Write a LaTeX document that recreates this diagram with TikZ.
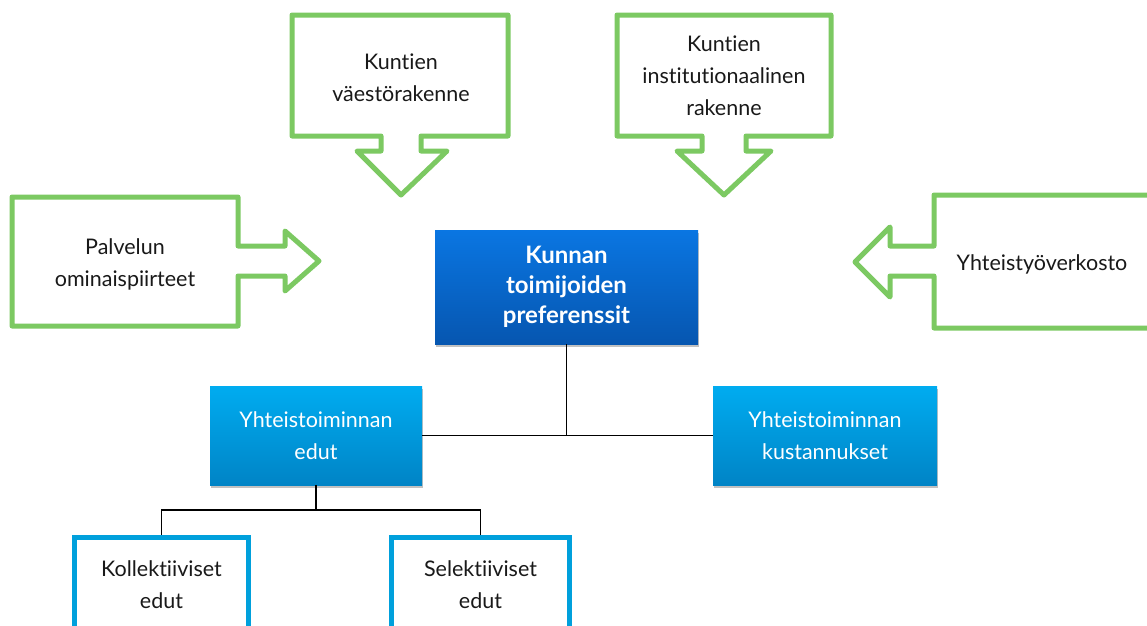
\documentclass[tikz,border=0pt]{standalone}
\usepackage{fontspec}
\setmainfont{Lato}[Ligatures={NoCommon,NoContextual}]
\usetikzlibrary{shadows}
\definecolor{calloutgreen}{RGB}{124,201,98}
\definecolor{prefTop}{RGB}{10,118,226}
\definecolor{prefBot}{RGB}{6,86,176}
\definecolor{benTop}{RGB}{0,172,240}
\definecolor{benBot}{RGB}{0,132,198}
\definecolor{frameblue}{RGB}{0,160,220}
\definecolor{ink}{RGB}{25,25,25}
\begin{document}
\begin{tikzpicture}[x=1pt,y=-1pt,
  callout/.style={draw=calloutgreen, line width=5pt, line join=round, fill=white},
  txt/.style={text=ink, align=center, font=\fontsize{21.5}{32}\selectfont, inner sep=0pt},
  prefbox/.style={top color=prefTop, bottom color=prefBot, draw=none,
    text=white, align=center, font=\bfseries\fontsize{24}{30}\selectfont,
    drop shadow={shadow xshift=1pt, shadow yshift=-3pt, opacity=0.35, fill=black!70}},
  benbox/.style={top color=benTop, bottom color=benBot, draw=none,
    text=white, align=center, font=\fontsize{21.5}{32}\selectfont,
    minimum height=99pt,
    drop shadow={shadow xshift=1pt, shadow yshift=-3pt, opacity=0.35, fill=black!70}},
  leafbox/.style={draw=frameblue, line width=5pt, fill=white, text=ink,
    align=center, font=\fontsize{21.5}{32}\selectfont, minimum height=94pt},
  link/.style={draw=black, line width=1.8pt}
]
\useasboundingbox (0,0) rectangle (1147,625);

% green callouts pointing at the centre
\draw[callout] (292,15) -- (508,15) -- (508,136) -- (421,136) -- (421,151)
  -- (447,151) -- (401,195) -- (357,151) -- (381,151) -- (381,136)
  -- (292,136) -- cycle;
\node[txt] (pop) at (401,78) {Kuntien\\väestörakenne};

\draw[callout] (617,15) -- (831,15) -- (831,136) -- (746,136) -- (746,151)
  -- (771,151) -- (724,195) -- (677,151) -- (702,151) -- (702,136)
  -- (617,136) -- cycle;
\node[txt] (inst) at (724,76) {Kuntien\\institutionaalinen\\rakenne};

\draw[callout] (12,197) -- (238,197) -- (238,246) -- (285,246) -- (285,231)
  -- (319,261) -- (285,291) -- (285,276) -- (238,276) -- (238,326)
  -- (12,326) -- cycle;
\node[txt] (serv) at (125,264) {Palvelun\\ominaispiirteet};

\draw[callout] (1160,195) -- (934,195) -- (934,246) -- (890,246) -- (890,227)
  -- (855,262) -- (890,297) -- (890,276) -- (934,276) -- (934,328)
  -- (1160,328) -- cycle;
\node[txt] (net) at (1042,264) {Yhteistyöverkosto};

% hierarchy
\node[prefbox, minimum width=263pt, minimum height=114pt] (pref) at (566.5,287)
  {Kunnan\\toimijoiden\\preferenssit};
\node[benbox, minimum width=212pt] (edut) at (316,435.5) {Yhteistoiminnan\\edut};
\node[benbox, minimum width=224pt] (kust) at (825,435.5) {Yhteistoiminnan\\kustannukset};

\node[leafbox, minimum width=174pt] (koll) at (161.5,584.5) {Kollektiiviset\\edut};
\node[leafbox, minimum width=178pt] (sel) at (480.5,584.5) {Selektiiviset\\edut};

\coordinate (split) at (316,510);
\draw[link] (pref.south) |- (edut.east);
\draw[link] (pref.south) |- (kust.west);
\draw[link] (edut.south) -- (split);
\draw[link] (split) -| (koll.north);
\draw[link] (split) -| (sel.north);
\end{tikzpicture}
\end{document}
